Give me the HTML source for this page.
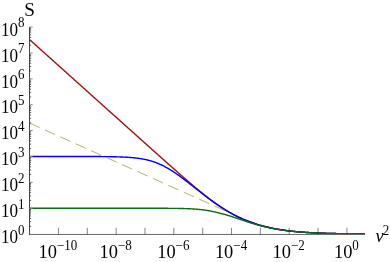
<!DOCTYPE html>
<html><head><meta charset="utf-8"><title>S vs v2</title>
<style>
html,body{margin:0;padding:0;background:#fff;}
svg{display:block;font-family:"Liberation Serif",serif;}
text{fill:#000;}
</style></head><body>
<svg width="390" height="262" viewBox="0 0 390 262">
<rect width="390" height="262" fill="#fff"/>
<g fill="none" stroke-linejoin="round">
<path d="M29.50 123.04 L30.00 123.26 L30.50 123.49 L31.00 123.71 L31.50 123.93 L32.00 124.16 L32.50 124.38 L33.00 124.61 L33.50 124.83 L34.00 125.06 L34.50 125.28 L35.00 125.50 L35.50 125.73 L36.00 125.95 L36.50 126.18 L37.00 126.40 L37.50 126.63 L38.00 126.85 L38.50 127.07 L39.00 127.30 L39.50 127.52 L40.00 127.75 L40.50 127.97 L41.00 128.19 L41.50 128.42 L42.00 128.64 L42.50 128.87 L43.00 129.09 L43.50 129.32 L44.00 129.54 L44.50 129.76 L45.00 129.99 L45.50 130.21 L46.00 130.44 L46.50 130.66 L47.00 130.89 L47.50 131.11 L48.00 131.33 L48.50 131.56 L49.00 131.78 L49.50 132.01 L50.00 132.23 L50.50 132.46 L51.00 132.68 L51.50 132.90 L52.00 133.13 L52.50 133.35 L53.00 133.58 L53.50 133.80 L54.00 134.03 L54.50 134.25 L55.00 134.47 L55.50 134.70 L56.00 134.92 L56.50 135.15 L57.00 135.37 L57.50 135.60 L58.00 135.82 L58.50 136.04 L59.00 136.27 L59.50 136.49 L60.00 136.72 L60.50 136.94 L61.00 137.17 L61.50 137.39 L62.00 137.61 L62.50 137.84 L63.00 138.06 L63.50 138.29 L64.00 138.51 L64.50 138.74 L65.00 138.96 L65.50 139.18 L66.00 139.41 L66.50 139.63 L67.00 139.86 L67.50 140.08 L68.00 140.31 L68.50 140.53 L69.00 140.75 L69.50 140.98 L70.00 141.20 L70.50 141.43 L71.00 141.65 L71.50 141.88 L72.00 142.10 L72.50 142.32 L73.00 142.55 L73.50 142.77 L74.00 143.00 L74.50 143.22 L75.00 143.45 L75.50 143.67 L76.00 143.89 L76.50 144.12 L77.00 144.34 L77.50 144.57 L78.00 144.79 L78.50 145.01 L79.00 145.24 L79.50 145.46 L80.00 145.69 L80.50 145.91 L81.00 146.14 L81.50 146.36 L82.00 146.58 L82.50 146.81 L83.00 147.03 L83.50 147.26 L84.00 147.48 L84.50 147.71 L85.00 147.93 L85.50 148.15 L86.00 148.38 L86.50 148.60 L87.00 148.83 L87.50 149.05 L88.00 149.28 L88.50 149.50 L89.00 149.72 L89.50 149.95 L90.00 150.17 L90.50 150.40 L91.00 150.62 L91.50 150.85 L92.00 151.07 L92.50 151.29 L93.00 151.52 L93.50 151.74 L94.00 151.97 L94.50 152.19 L95.00 152.42 L95.50 152.64 L96.00 152.86 L96.50 153.09 L97.00 153.31 L97.50 153.54 L98.00 153.76 L98.50 153.99 L99.00 154.21 L99.50 154.43 L100.00 154.66 L100.50 154.88 L101.00 155.11 L101.50 155.33 L102.00 155.56 L102.50 155.78 L103.00 156.00 L103.50 156.23 L104.00 156.45 L104.50 156.68 L105.00 156.90 L105.50 157.13 L106.00 157.35 L106.50 157.57 L107.00 157.80 L107.50 158.02 L108.00 158.25 L108.50 158.47 L109.00 158.70 L109.50 158.92 L110.00 159.14 L110.50 159.37 L111.00 159.59 L111.50 159.82 L112.00 160.04 L112.50 160.27 L113.00 160.49 L113.50 160.71 L114.00 160.94 L114.50 161.16 L115.00 161.39 L115.50 161.61 L116.00 161.83 L116.50 162.06 L117.00 162.28 L117.50 162.51 L118.00 162.73 L118.50 162.96 L119.00 163.18 L119.50 163.40 L120.00 163.63 L120.50 163.85 L121.00 164.08 L121.50 164.30 L122.00 164.53 L122.50 164.75 L123.00 164.97 L123.50 165.20 L124.00 165.42 L124.50 165.65 L125.00 165.87 L125.50 166.10 L126.00 166.32 L126.50 166.54 L127.00 166.77 L127.50 166.99 L128.00 167.22 L128.50 167.44 L129.00 167.67 L129.50 167.89 L130.00 168.11 L130.50 168.34 L131.00 168.56 L131.50 168.79 L132.00 169.01 L132.50 169.24 L133.00 169.46 L133.50 169.68 L134.00 169.91 L134.50 170.13 L135.00 170.36 L135.50 170.58 L136.00 170.81 L136.50 171.03 L137.00 171.25 L137.50 171.48 L138.00 171.70 L138.50 171.93 L139.00 172.15 L139.50 172.38 L140.00 172.60 L140.50 172.82 L141.00 173.05 L141.50 173.27 L142.00 173.50 L142.50 173.72 L143.00 173.95 L143.50 174.17 L144.00 174.39 L144.50 174.62 L145.00 174.84 L145.50 175.07 L146.00 175.29 L146.50 175.52 L147.00 175.74 L147.50 175.96 L148.00 176.19 L148.50 176.41 L149.00 176.64 L149.50 176.86 L150.00 177.09 L150.50 177.31 L151.00 177.53 L151.50 177.76 L152.00 177.98 L152.50 178.21 L153.00 178.43 L153.50 178.65 L154.00 178.88 L154.50 179.10 L155.00 179.33 L155.50 179.55 L156.00 179.78 L156.50 180.00 L157.00 180.22 L157.50 180.45 L158.00 180.67 L158.50 180.90 L159.00 181.12 L159.50 181.35 L160.00 181.57 L160.50 181.79 L161.00 182.02 L161.50 182.24 L162.00 182.47 L162.50 182.69 L163.00 182.92 L163.50 183.14 L164.00 183.36 L164.50 183.59 L165.00 183.81 L165.50 184.04 L166.00 184.26 L166.50 184.49 L167.00 184.71 L167.50 184.93 L168.00 185.16 L168.50 185.38 L169.00 185.61 L169.50 185.83 L170.00 186.06 L170.50 186.28 L171.00 186.50 L171.50 186.73 L172.00 186.95 L172.50 187.18 L173.00 187.40 L173.50 187.63 L174.00 187.85 L174.50 188.07 L175.00 188.30 L175.50 188.52 L176.00 188.75 L176.50 188.97 L177.00 189.20 L177.50 189.42 L178.00 189.64 L178.50 189.87 L179.00 190.09 L179.50 190.32 L180.00 190.54 L180.50 190.77 L181.00 190.99 L181.50 191.21 L182.00 191.44 L182.50 191.66 L183.00 191.89 L183.50 192.11 L184.00 192.34 L184.50 192.56 L185.00 192.78 L185.50 193.01 L186.00 193.23 L186.50 193.46 L187.00 193.68 L187.50 193.91 L188.00 194.13 L188.50 194.35 L189.00 194.58 L189.50 194.80 L190.00 195.03 L190.50 195.25 L191.00 195.48 L191.50 195.70 L192.00 195.92 L192.50 196.15 L193.00 196.37 L193.50 196.60 L194.00 196.82 L194.50 197.04 L195.00 197.27 L195.50 197.49 L196.00 197.72 L196.50 197.94 L197.00 198.17 L197.50 198.39 L198.00 198.61 L198.50 198.84 L199.00 199.06 L199.50 199.29 L200.00 199.51 L200.50 199.74 L201.00 199.96 L201.50 200.18 L202.00 200.41 L202.50 200.63 L203.00 200.86 L203.50 201.08 L204.00 201.31 L204.50 201.53 L205.00 201.75 L205.50 201.98 L206.00 202.20 L206.50 202.43 L207.00 202.65 L207.50 202.88 L208.00 203.10 L208.50 203.32 L209.00 203.55 L209.50 203.77 L210.00 204.00 L210.50 204.22 L211.00 204.45 L211.50 204.67 L212.00 204.89 L212.50 205.12 L213.00 205.34 L213.50 205.57 L214.00 205.79 L214.50 206.02 L215.00 206.24 L215.50 206.46 L216.00 206.69 L216.50 206.91 L217.00 207.14 L217.50 207.36 L218.00 207.59 L218.50 207.81 L219.00 208.03 L219.50 208.26 L220.00 208.48 L220.50 208.71 L221.00 208.93 L221.50 209.15 L222.00 209.38 L222.50 209.60 L223.00 209.83 L223.50 210.05 L224.00 210.27 L224.50 210.50 L225.00 210.72 L225.50 210.95 L226.00 211.17 L226.50 211.39 L227.00 211.62 L227.50 211.84 L228.00 212.06 L228.50 212.28 L229.00 212.51 L229.50 212.73 L230.00 212.95 L230.50 213.17 L231.00 213.40 L231.50 213.62 L232.00 213.84 L232.50 214.06 L233.00 214.28 L233.50 214.50 L234.00 214.72 L234.50 214.94 L235.00 215.16 L235.50 215.38 L236.00 215.59 L236.50 215.81 L237.00 216.03 L237.50 216.24 L238.00 216.46 L238.50 216.67 L239.00 216.89 L239.50 217.10 L240.00 217.31 L240.50 217.53 L241.00 217.74 L241.50 217.95 L242.00 218.15 L242.50 218.36 L243.00 218.57 L243.50 218.78 L244.00 218.98 L244.50 219.18 L245.00 219.39 L245.50 219.59 L246.00 219.79 L246.50 219.98 L247.00 220.18 L247.50 220.38 L248.00 220.57 L248.50 220.77 L249.00 220.96 L249.50 221.15 L250.00 221.34 L250.50 221.52 L251.00 221.71 L251.50 221.89 L252.00 222.07 L252.50 222.25 L253.00 222.43 L253.50 222.61 L254.00 222.79 L254.50 222.96 L255.00 223.13 L255.50 223.30 L256.00 223.47 L256.50 223.64 L257.00 223.80 L257.50 223.97 L258.00 224.13 L258.50 224.29 L259.00 224.44 L259.50 224.60 L260.00 224.75 L260.50 224.91 L261.00 225.06 L261.50 225.21 L262.00 225.35 L262.50 225.50 L263.00 225.64 L263.50 225.78 L264.00 225.92 L264.50 226.06 L265.00 226.19 L265.50 226.33 L266.00 226.46 L266.50 226.59 L267.00 226.72 L267.50 226.84 L268.00 226.97 L268.50 227.09 L269.00 227.21 L269.50 227.33 L270.00 227.45 L270.50 227.57 L271.00 227.68 L271.50 227.79 L272.00 227.90 L272.50 228.01 L273.00 228.12 L273.50 228.23 L274.00 228.33 L274.50 228.43 L275.00 228.54 L275.50 228.64 L276.00 228.73 L276.50 228.83 L277.00 228.92 L277.50 229.02 L278.00 229.11 L278.50 229.20 L279.00 229.29 L279.50 229.38 L280.00 229.46 L280.50 229.55 L281.00 229.63 L281.50 229.71 L282.00 229.79 L282.50 229.87 L283.00 229.95 L283.50 230.03 L284.00 230.10 L284.50 230.17 L285.00 230.25 L285.50 230.32 L286.00 230.39 L286.50 230.46 L287.00 230.53 L287.50 230.59 L288.00 230.66 L288.50 230.72 L289.00 230.78 L289.50 230.85 L290.00 230.91 L290.50 230.97 L291.00 231.03 L291.50 231.08 L292.00 231.14 L292.50 231.20 L293.00 231.25 L293.50 231.30 L294.00 231.36 L294.50 231.41 L295.00 231.46 L295.50 231.51 L296.00 231.56 L296.50 231.61 L297.00 231.66 L297.50 231.70 L298.00 231.75 L298.50 231.79 L299.00 231.84 L299.50 231.88 L300.00 231.92 L300.50 231.96 L301.00 232.00 L301.50 232.04 L302.00 232.08 L302.50 232.12 L303.00 232.16 L303.50 232.20 L304.00 232.23 L304.50 232.27 L305.00 232.30 L305.50 232.34 L306.00 232.37 L306.50 232.41 L307.00 232.44 L307.50 232.47 L308.00 232.50 L308.50 232.53 L309.00 232.56 L309.50 232.59 L310.00 232.62 L310.50 232.65 L311.00 232.68 L311.50 232.71 L312.00 232.73 L312.50 232.76 L313.00 232.79 L313.50 232.81 L314.00 232.84 L314.50 232.86 L315.00 232.88 L315.50 232.91 L316.00 232.93 L316.50 232.95 L317.00 232.98 L317.50 233.00 L318.00 233.02 L318.50 233.04 L319.00 233.06 L319.50 233.08 L320.00 233.10 L320.50 233.12 L321.00 233.14 L321.50 233.16 L322.00 233.18 L322.50 233.19 L323.00 233.21 L323.50 233.23 L324.00 233.25 L324.50 233.26 L325.00 233.28 L325.50 233.30 L326.00 233.31 L326.50 233.33 L327.00 233.34 L327.50 233.36 L328.00 233.37 L328.50 233.39 L329.00 233.40 L329.50 233.41 L330.00 233.43 L330.50 233.44 L331.00 233.45 L331.50 233.47 L332.00 233.48 L332.50 233.49 L333.00 233.50 L333.50 233.51 L334.00 233.52 L334.50 233.54 L335.00 233.55 L335.50 233.56 L336.00 233.57 L336.50 233.58 L337.00 233.59 L337.50 233.60 L338.00 233.61 L338.50 233.62 L339.00 233.63 L339.50 233.64 L340.00 233.65 L340.50 233.66 L341.00 233.66 L341.50 233.67 L342.00 233.68 L342.50 233.69 L343.00 233.70 L343.50 233.71 L344.00 233.71 L344.50 233.72 L345.00 233.73 L345.50 233.74 L346.00 233.74 L346.50 233.75 L347.00 233.76 L347.50 233.76 L348.00 233.77 L348.50 233.78 L349.00 233.78 L349.50 233.79 L350.00 233.80 L350.50 233.80 L351.00 233.81 L351.50 233.81 L352.00 233.82 L352.50 233.82 L353.00 233.83 L353.50 233.83 L354.00 233.84 L354.50 233.85 L355.00 233.85 L355.50 233.85 L356.00 233.86 L356.50 233.86 L357.00 233.87 L357.50 233.87 L358.00 233.88 L358.50 233.88 L359.00 233.89 L359.50 233.89 L360.00 233.90 L360.50 233.90 L361.00 233.90 L361.50 233.91 L362.00 233.91 L362.50 233.91 L363.00 233.92 L363.50 233.92 L364.00 233.93 L364.80 233.93" stroke="#9c9c3e" stroke-width="0.9" stroke-dasharray="10.96 5.95"/>
<path d="M29.50 39.55 L30.00 40.00 L30.50 40.44 L31.00 40.89 L31.50 41.34 L32.00 41.79 L32.50 42.24 L33.00 42.69 L33.50 43.13 L34.00 43.58 L34.50 44.03 L35.00 44.48 L35.50 44.93 L36.00 45.38 L36.50 45.83 L37.00 46.27 L37.50 46.72 L38.00 47.17 L38.50 47.62 L39.00 48.07 L39.50 48.52 L40.00 48.97 L40.50 49.41 L41.00 49.86 L41.50 50.31 L42.00 50.76 L42.50 51.21 L43.00 51.66 L43.50 52.11 L44.00 52.55 L44.50 53.00 L45.00 53.45 L45.50 53.90 L46.00 54.35 L46.50 54.80 L47.00 55.25 L47.50 55.69 L48.00 56.14 L48.50 56.59 L49.00 57.04 L49.50 57.49 L50.00 57.94 L50.50 58.38 L51.00 58.83 L51.50 59.28 L52.00 59.73 L52.50 60.18 L53.00 60.63 L53.50 61.08 L54.00 61.52 L54.50 61.97 L55.00 62.42 L55.50 62.87 L56.00 63.32 L56.50 63.77 L57.00 64.22 L57.50 64.66 L58.00 65.11 L58.50 65.56 L59.00 66.01 L59.50 66.46 L60.00 66.91 L60.50 67.36 L61.00 67.80 L61.50 68.25 L62.00 68.70 L62.50 69.15 L63.00 69.60 L63.50 70.05 L64.00 70.50 L64.50 70.94 L65.00 71.39 L65.50 71.84 L66.00 72.29 L66.50 72.74 L67.00 73.19 L67.50 73.64 L68.00 74.08 L68.50 74.53 L69.00 74.98 L69.50 75.43 L70.00 75.88 L70.50 76.33 L71.00 76.77 L71.50 77.22 L72.00 77.67 L72.50 78.12 L73.00 78.57 L73.50 79.02 L74.00 79.47 L74.50 79.91 L75.00 80.36 L75.50 80.81 L76.00 81.26 L76.50 81.71 L77.00 82.16 L77.50 82.61 L78.00 83.05 L78.50 83.50 L79.00 83.95 L79.50 84.40 L80.00 84.85 L80.50 85.30 L81.00 85.75 L81.50 86.19 L82.00 86.64 L82.50 87.09 L83.00 87.54 L83.50 87.99 L84.00 88.44 L84.50 88.89 L85.00 89.33 L85.50 89.78 L86.00 90.23 L86.50 90.68 L87.00 91.13 L87.50 91.58 L88.00 92.02 L88.50 92.47 L89.00 92.92 L89.50 93.37 L90.00 93.82 L90.50 94.27 L91.00 94.72 L91.50 95.16 L92.00 95.61 L92.50 96.06 L93.00 96.51 L93.50 96.96 L94.00 97.41 L94.50 97.86 L95.00 98.30 L95.50 98.75 L96.00 99.20 L96.50 99.65 L97.00 100.10 L97.50 100.55 L98.00 101.00 L98.50 101.44 L99.00 101.89 L99.50 102.34 L100.00 102.79 L100.50 103.24 L101.00 103.69 L101.50 104.13 L102.00 104.58 L102.50 105.03 L103.00 105.48 L103.50 105.93 L104.00 106.38 L104.50 106.83 L105.00 107.27 L105.50 107.72 L106.00 108.17 L106.50 108.62 L107.00 109.07 L107.50 109.52 L108.00 109.97 L108.50 110.41 L109.00 110.86 L109.50 111.31 L110.00 111.76 L110.50 112.21 L111.00 112.66 L111.50 113.10 L112.00 113.55 L112.50 114.00 L113.00 114.45 L113.50 114.90 L114.00 115.35 L114.50 115.80 L115.00 116.24 L115.50 116.69 L116.00 117.14 L116.50 117.59 L117.00 118.04 L117.50 118.49 L118.00 118.94 L118.50 119.38 L119.00 119.83 L119.50 120.28 L120.00 120.73 L120.50 121.18 L121.00 121.63 L121.50 122.07 L122.00 122.52 L122.50 122.97 L123.00 123.42 L123.50 123.87 L124.00 124.32 L124.50 124.76 L125.00 125.21 L125.50 125.66 L126.00 126.11 L126.50 126.56 L127.00 127.01 L127.50 127.45 L128.00 127.90 L128.50 128.35 L129.00 128.80 L129.50 129.25 L130.00 129.70 L130.50 130.14 L131.00 130.59 L131.50 131.04 L132.00 131.49 L132.50 131.94 L133.00 132.39 L133.50 132.83 L134.00 133.28 L134.50 133.73 L135.00 134.18 L135.50 134.63 L136.00 135.08 L136.50 135.52 L137.00 135.97 L137.50 136.42 L138.00 136.87 L138.50 137.32 L139.00 137.76 L139.50 138.21 L140.00 138.66 L140.50 139.11 L141.00 139.56 L141.50 140.01 L142.00 140.45 L142.50 140.90 L143.00 141.35 L143.50 141.80 L144.00 142.25 L144.50 142.69 L145.00 143.14 L145.50 143.59 L146.00 144.04 L146.50 144.48 L147.00 144.93 L147.50 145.38 L148.00 145.83 L148.50 146.28 L149.00 146.72 L149.50 147.17 L150.00 147.62 L150.50 148.07 L151.00 148.51 L151.50 148.96 L152.00 149.41 L152.50 149.85 L153.00 150.30 L153.50 150.75 L154.00 151.20 L154.50 151.64 L155.00 152.09 L155.50 152.54 L156.00 152.98 L156.50 153.43 L157.00 153.88 L157.50 154.33 L158.00 154.77 L158.50 155.22 L159.00 155.67 L159.50 156.11 L160.00 156.56 L160.50 157.00 L161.00 157.45 L161.50 157.90 L162.00 158.34 L162.50 158.79 L163.00 159.23 L163.50 159.68 L164.00 160.13 L164.50 160.57 L165.00 161.02 L165.50 161.46 L166.00 161.91 L166.50 162.35 L167.00 162.80 L167.50 163.24 L168.00 163.69 L168.50 164.13 L169.00 164.57 L169.50 165.02 L170.00 165.46 L170.50 165.90 L171.00 166.35 L171.50 166.79 L172.00 167.23 L172.50 167.68 L173.00 168.12 L173.50 168.56 L174.00 169.00 L174.50 169.45 L175.00 169.89 L175.50 170.33 L176.00 170.77 L176.50 171.21 L177.00 171.65 L177.50 172.09 L178.00 172.53 L178.50 172.97 L179.00 173.41 L179.50 173.85 L180.00 174.29 L180.50 174.73 L181.00 175.16 L181.50 175.60 L182.00 176.04 L182.50 176.47 L183.00 176.91 L183.50 177.34 L184.00 177.78 L184.50 178.21 L185.00 178.65 L185.50 179.08 L186.00 179.51 L186.50 179.95 L187.00 180.38 L187.50 180.81 L188.00 181.24 L188.50 181.67 L189.00 182.10 L189.50 182.53 L190.00 182.96 L190.50 183.38 L191.00 183.81 L191.50 184.23 L192.00 184.66 L192.50 185.08 L193.00 185.51 L193.50 185.93 L194.00 186.35 L194.50 186.77 L195.00 187.19 L195.50 187.61 L196.00 188.03 L196.50 188.44 L197.00 188.86 L197.50 189.27 L198.00 189.69 L198.50 190.10 L199.00 190.51 L199.50 190.92 L200.00 191.33 L200.50 191.74 L201.00 192.14 L201.50 192.55 L202.00 192.95 L202.50 193.36 L203.00 193.76 L203.50 194.16 L204.00 194.55 L204.50 194.95 L205.00 195.35 L205.50 195.74 L206.00 196.13 L206.50 196.52 L207.00 196.91 L207.50 197.30 L208.00 197.69 L208.50 198.07 L209.00 198.45 L209.50 198.84 L210.00 199.21 L210.50 199.59 L211.00 199.97 L211.50 200.34 L212.00 200.71 L212.50 201.08 L213.00 201.45 L213.50 201.82 L214.00 202.18 L214.50 202.54 L215.00 202.90 L215.50 203.26 L216.00 203.62 L216.50 203.97 L217.00 204.32 L217.50 204.67 L218.00 205.01 L218.50 205.36 L219.00 205.70 L219.50 206.04 L220.00 206.38 L220.50 206.71 L221.00 207.04 L221.50 207.37 L222.00 207.70 L222.50 208.03 L223.00 208.35 L223.50 208.67 L224.00 208.99 L224.50 209.30 L225.00 209.61 L225.50 209.92 L226.00 210.23 L226.50 210.53 L227.00 210.84 L227.50 211.13 L228.00 211.43 L228.50 211.72 L229.00 212.02 L229.50 212.30 L230.00 212.59 L230.50 212.87 L231.00 213.15 L231.50 213.43 L232.00 213.70 L232.50 213.98 L233.00 214.25 L233.50 214.51 L234.00 214.78 L234.50 215.04 L235.00 215.30 L235.50 215.55 L236.00 215.81 L236.50 216.06 L237.00 216.30 L237.50 216.55 L238.00 216.79 L238.50 217.03 L239.00 217.27 L239.50 217.51 L240.00 217.74 L240.50 217.97 L241.00 218.20 L241.50 218.42 L242.00 218.65 L242.50 218.87 L243.00 219.09 L243.50 219.30 L244.00 219.52 L244.50 219.73 L245.00 219.94 L245.50 220.14 L246.00 220.35 L246.50 220.55 L247.00 220.75 L247.50 220.95 L248.00 221.14 L248.50 221.34 L249.00 221.53 L249.50 221.72 L250.00 221.90 L250.50 222.09 L251.00 222.27 L251.50 222.45 L252.00 222.63 L252.50 222.80 L253.00 222.98 L253.50 223.15 L254.00 223.32 L254.50 223.49 L255.00 223.65 L255.50 223.82 L256.00 223.98 L256.50 224.14 L257.00 224.30 L257.50 224.45 L258.00 224.60 L258.50 224.76 L259.00 224.91 L259.50 225.05 L260.00 225.20 L260.50 225.34 L261.00 225.49 L261.50 225.63 L262.00 225.76 L262.50 225.90 L263.00 226.03 L263.50 226.17 L264.00 226.30 L264.50 226.43 L265.00 226.55 L265.50 226.68 L266.00 226.80 L266.50 226.93 L267.00 227.05 L267.50 227.17 L268.00 227.28 L268.50 227.40 L269.00 227.51 L269.50 227.62 L270.00 227.73 L270.50 227.84 L271.00 227.95 L271.50 228.05 L272.00 228.16 L272.50 228.26 L273.00 228.36 L273.50 228.46 L274.00 228.56 L274.50 228.66 L275.00 228.75 L275.50 228.84 L276.00 228.94 L276.50 229.03 L277.00 229.12 L277.50 229.20 L278.00 229.29 L278.50 229.38 L279.00 229.46 L279.50 229.54 L280.00 229.62 L280.50 229.70 L281.00 229.78 L281.50 229.86 L282.00 229.93 L282.50 230.01 L283.00 230.08 L283.50 230.15 L284.00 230.23 L284.50 230.30 L285.00 230.36 L285.50 230.43 L286.00 230.50 L286.50 230.56 L287.00 230.63 L287.50 230.69 L288.00 230.75 L288.50 230.82 L289.00 230.88 L289.50 230.93 L290.00 230.99 L290.50 231.05 L291.00 231.11 L291.50 231.16 L292.00 231.22 L292.50 231.27 L293.00 231.32 L293.50 231.37 L294.00 231.42 L294.50 231.47 L295.00 231.52 L295.50 231.57 L296.00 231.62 L296.50 231.66 L297.00 231.71 L297.50 231.75 L298.00 231.80 L298.50 231.84 L299.00 231.88 L299.50 231.92 L300.00 231.96 L300.50 232.00 L301.00 232.04 L301.50 232.08 L302.00 232.12 L302.50 232.16 L303.00 232.19 L303.50 232.23 L304.00 232.27 L304.50 232.30 L305.00 232.34 L305.50 232.37 L306.00 232.40 L306.50 232.43 L307.00 232.47 L307.50 232.50 L308.00 232.53 L308.50 232.56 L309.00 232.59 L309.50 232.62 L310.00 232.64 L310.50 232.67 L311.00 232.70 L311.50 232.73 L312.00 232.75 L312.50 232.78 L313.00 232.80 L313.50 232.83 L314.00 232.85 L314.50 232.88 L315.00 232.90 L315.50 232.92 L316.00 232.95 L316.50 232.97 L317.00 232.99 L317.50 233.01 L318.00 233.03 L318.50 233.05 L319.00 233.07 L319.50 233.09 L320.00 233.11 L320.50 233.13 L321.00 233.15 L321.50 233.17 L322.00 233.19 L322.50 233.20 L323.00 233.22 L323.50 233.24 L324.00 233.25 L324.50 233.27 L325.00 233.29 L325.50 233.30 L326.00 233.32 L326.50 233.33 L327.00 233.35 L327.50 233.36 L328.00 233.38 L328.50 233.39 L329.00 233.40 L329.50 233.42 L330.00 233.43 L330.50 233.44 L331.00 233.46 L331.50 233.47 L332.00 233.48 L332.50 233.49 L333.00 233.51 L333.50 233.52 L334.00 233.53 L334.50 233.54 L335.00 233.55 L335.50 233.56 L336.00 233.57 L336.50 233.58 L337.00 233.59 L337.50 233.60 L338.00 233.61 L338.50 233.62 L339.00 233.63 L339.50 233.64 L340.00 233.65 L340.50 233.66 L341.00 233.67 L341.50 233.68 L342.00 233.68 L342.50 233.69 L343.00 233.70 L343.50 233.71 L344.00 233.72 L344.50 233.72 L345.00 233.73 L345.50 233.74 L346.00 233.74 L346.50 233.75 L347.00 233.76 L347.50 233.76 L348.00 233.77 L348.50 233.78 L349.00 233.78 L349.50 233.79 L350.00 233.80 L350.50 233.80 L351.00 233.81 L351.50 233.81 L352.00 233.82 L352.50 233.83 L353.00 233.83 L353.50 233.84 L354.00 233.84 L354.50 233.85 L355.00 233.85 L355.50 233.86 L356.00 233.86 L356.50 233.87 L357.00 233.87 L357.50 233.87 L358.00 233.88 L358.50 233.88 L359.00 233.89 L359.50 233.89 L360.00 233.90 L360.50 233.90 L361.00 233.90 L361.50 233.91 L362.00 233.91 L362.50 233.92 L363.00 233.92 L363.50 233.92 L364.00 233.93 L364.80 233.93" stroke="#a01010" stroke-width="1.4"/>
<path d="M29.50 156.48 L30.00 156.48 L30.50 156.48 L31.00 156.48 L31.50 156.48 L32.00 156.48 L32.50 156.48 L33.00 156.48 L33.50 156.48 L34.00 156.48 L34.50 156.48 L35.00 156.48 L35.50 156.48 L36.00 156.48 L36.50 156.48 L37.00 156.48 L37.50 156.48 L38.00 156.48 L38.50 156.48 L39.00 156.48 L39.50 156.48 L40.00 156.48 L40.50 156.48 L41.00 156.48 L41.50 156.48 L42.00 156.48 L42.50 156.48 L43.00 156.48 L43.50 156.48 L44.00 156.48 L44.50 156.48 L45.00 156.48 L45.50 156.48 L46.00 156.48 L46.50 156.48 L47.00 156.48 L47.50 156.48 L48.00 156.48 L48.50 156.48 L49.00 156.48 L49.50 156.48 L50.00 156.48 L50.50 156.48 L51.00 156.48 L51.50 156.48 L52.00 156.48 L52.50 156.48 L53.00 156.48 L53.50 156.48 L54.00 156.48 L54.50 156.48 L55.00 156.48 L55.50 156.48 L56.00 156.48 L56.50 156.48 L57.00 156.48 L57.50 156.48 L58.00 156.48 L58.50 156.48 L59.00 156.48 L59.50 156.48 L60.00 156.48 L60.50 156.48 L61.00 156.48 L61.50 156.48 L62.00 156.48 L62.50 156.48 L63.00 156.48 L63.50 156.48 L64.00 156.48 L64.50 156.48 L65.00 156.48 L65.50 156.48 L66.00 156.48 L66.50 156.48 L67.00 156.48 L67.50 156.48 L68.00 156.48 L68.50 156.48 L69.00 156.48 L69.50 156.48 L70.00 156.48 L70.50 156.48 L71.00 156.48 L71.50 156.48 L72.00 156.49 L72.50 156.49 L73.00 156.49 L73.50 156.49 L74.00 156.49 L74.50 156.49 L75.00 156.49 L75.50 156.49 L76.00 156.49 L76.50 156.49 L77.00 156.49 L77.50 156.49 L78.00 156.49 L78.50 156.49 L79.00 156.49 L79.50 156.49 L80.00 156.49 L80.50 156.49 L81.00 156.50 L81.50 156.50 L82.00 156.50 L82.50 156.50 L83.00 156.50 L83.50 156.50 L84.00 156.50 L84.50 156.50 L85.00 156.50 L85.50 156.50 L86.00 156.51 L86.50 156.51 L87.00 156.51 L87.50 156.51 L88.00 156.51 L88.50 156.51 L89.00 156.51 L89.50 156.52 L90.00 156.52 L90.50 156.52 L91.00 156.52 L91.50 156.52 L92.00 156.52 L92.50 156.53 L93.00 156.53 L93.50 156.53 L94.00 156.53 L94.50 156.54 L95.00 156.54 L95.50 156.54 L96.00 156.54 L96.50 156.55 L97.00 156.55 L97.50 156.55 L98.00 156.56 L98.50 156.56 L99.00 156.56 L99.50 156.57 L100.00 156.57 L100.50 156.57 L101.00 156.58 L101.50 156.58 L102.00 156.59 L102.50 156.59 L103.00 156.59 L103.50 156.60 L104.00 156.60 L104.50 156.61 L105.00 156.62 L105.50 156.62 L106.00 156.63 L106.50 156.63 L107.00 156.64 L107.50 156.65 L108.00 156.65 L108.50 156.66 L109.00 156.67 L109.50 156.68 L110.00 156.68 L110.50 156.69 L111.00 156.70 L111.50 156.71 L112.00 156.72 L112.50 156.73 L113.00 156.74 L113.50 156.75 L114.00 156.76 L114.50 156.77 L115.00 156.78 L115.50 156.80 L116.00 156.81 L116.50 156.82 L117.00 156.84 L117.50 156.85 L118.00 156.87 L118.50 156.88 L119.00 156.90 L119.50 156.91 L120.00 156.93 L120.50 156.95 L121.00 156.97 L121.50 156.99 L122.00 157.01 L122.50 157.03 L123.00 157.05 L123.50 157.08 L124.00 157.10 L124.50 157.12 L125.00 157.15 L125.50 157.18 L126.00 157.20 L126.50 157.23 L127.00 157.26 L127.50 157.29 L128.00 157.33 L128.50 157.36 L129.00 157.39 L129.50 157.43 L130.00 157.47 L130.50 157.51 L131.00 157.55 L131.50 157.59 L132.00 157.63 L132.50 157.67 L133.00 157.72 L133.50 157.77 L134.00 157.82 L134.50 157.87 L135.00 157.92 L135.50 157.98 L136.00 158.04 L136.50 158.09 L137.00 158.16 L137.50 158.22 L138.00 158.28 L138.50 158.35 L139.00 158.42 L139.50 158.49 L140.00 158.57 L140.50 158.65 L141.00 158.73 L141.50 158.81 L142.00 158.90 L142.50 158.98 L143.00 159.07 L143.50 159.17 L144.00 159.27 L144.50 159.37 L145.00 159.47 L145.50 159.58 L146.00 159.68 L146.50 159.80 L147.00 159.91 L147.50 160.03 L148.00 160.16 L148.50 160.28 L149.00 160.41 L149.50 160.55 L150.00 160.69 L150.50 160.83 L151.00 160.97 L151.50 161.12 L152.00 161.28 L152.50 161.43 L153.00 161.60 L153.50 161.76 L154.00 161.93 L154.50 162.11 L155.00 162.28 L155.50 162.47 L156.00 162.65 L156.50 162.85 L157.00 163.04 L157.50 163.24 L158.00 163.44 L158.50 163.65 L159.00 163.87 L159.50 164.08 L160.00 164.31 L160.50 164.53 L161.00 164.76 L161.50 165.00 L162.00 165.24 L162.50 165.48 L163.00 165.73 L163.50 165.98 L164.00 166.24 L164.50 166.50 L165.00 166.76 L165.50 167.03 L166.00 167.30 L166.50 167.58 L167.00 167.86 L167.50 168.15 L168.00 168.44 L168.50 168.73 L169.00 169.03 L169.50 169.33 L170.00 169.63 L170.50 169.94 L171.00 170.25 L171.50 170.57 L172.00 170.89 L172.50 171.21 L173.00 171.53 L173.50 171.86 L174.00 172.19 L174.50 172.53 L175.00 172.86 L175.50 173.20 L176.00 173.55 L176.50 173.89 L177.00 174.24 L177.50 174.59 L178.00 174.94 L178.50 175.30 L179.00 175.66 L179.50 176.02 L180.00 176.38 L180.50 176.75 L181.00 177.11 L181.50 177.48 L182.00 177.85 L182.50 178.23 L183.00 178.60 L183.50 178.97 L184.00 179.35 L184.50 179.73 L185.00 180.11 L185.50 180.49 L186.00 180.88 L186.50 181.26 L187.00 181.64 L187.50 182.03 L188.00 182.42 L188.50 182.80 L189.00 183.19 L189.50 183.58 L190.00 183.97 L190.50 184.36 L191.00 184.76 L191.50 185.15 L192.00 185.54 L192.50 185.93 L193.00 186.32 L193.50 186.72 L194.00 187.11 L194.50 187.50 L195.00 187.90 L195.50 188.29 L196.00 188.69 L196.50 189.08 L197.00 189.47 L197.50 189.86 L198.00 190.26 L198.50 190.65 L199.00 191.04 L199.50 191.43 L200.00 191.82 L200.50 192.21 L201.00 192.60 L201.50 192.99 L202.00 193.38 L202.50 193.77 L203.00 194.16 L203.50 194.54 L204.00 194.93 L204.50 195.31 L205.00 195.70 L205.50 196.08 L206.00 196.46 L206.50 196.84 L207.00 197.22 L207.50 197.59 L208.00 197.97 L208.50 198.35 L209.00 198.72 L209.50 199.09 L210.00 199.46 L210.50 199.83 L211.00 200.20 L211.50 200.57 L212.00 200.93 L212.50 201.29 L213.00 201.65 L213.50 202.01 L214.00 202.37 L214.50 202.73 L215.00 203.08 L215.50 203.43 L216.00 203.78 L216.50 204.13 L217.00 204.48 L217.50 204.82 L218.00 205.16 L218.50 205.50 L219.00 205.84 L219.50 206.18 L220.00 206.51 L220.50 206.84 L221.00 207.17 L221.50 207.50 L222.00 207.82 L222.50 208.14 L223.00 208.46 L223.50 208.78 L224.00 209.09 L224.50 209.40 L225.00 209.71 L225.50 210.02 L226.00 210.32 L226.50 210.63 L227.00 210.92 L227.50 211.22 L228.00 211.52 L228.50 211.81 L229.00 212.10 L229.50 212.38 L230.00 212.66 L230.50 212.95 L231.00 213.22 L231.50 213.50 L232.00 213.77 L232.50 214.04 L233.00 214.31 L233.50 214.58 L234.00 214.84 L234.50 215.10 L235.00 215.36 L235.50 215.61 L236.00 215.86 L236.50 216.11 L237.00 216.36 L237.50 216.60 L238.00 216.85 L238.50 217.08 L239.00 217.32 L239.50 217.56 L240.00 217.79 L240.50 218.02 L241.00 218.25 L241.50 218.47 L242.00 218.69 L242.50 218.91 L243.00 219.13 L243.50 219.35 L244.00 219.56 L244.50 219.77 L245.00 219.98 L245.50 220.18 L246.00 220.39 L246.50 220.59 L247.00 220.79 L247.50 220.98 L248.00 221.18 L248.50 221.37 L249.00 221.56 L249.50 221.75 L250.00 221.94 L250.50 222.12 L251.00 222.30 L251.50 222.48 L252.00 222.66 L252.50 222.84 L253.00 223.01 L253.50 223.18 L254.00 223.35 L254.50 223.52 L255.00 223.68 L255.50 223.85 L256.00 224.01 L256.50 224.17 L257.00 224.32 L257.50 224.48 L258.00 224.63 L258.50 224.78 L259.00 224.93 L259.50 225.08 L260.00 225.22 L260.50 225.37 L261.00 225.51 L261.50 225.65 L262.00 225.79 L262.50 225.92 L263.00 226.06 L263.50 226.19 L264.00 226.32 L264.50 226.45 L265.00 226.58 L265.50 226.70 L266.00 226.83 L266.50 226.95 L267.00 227.07 L267.50 227.19 L268.00 227.30 L268.50 227.42 L269.00 227.53 L269.50 227.64 L270.00 227.75 L270.50 227.86 L271.00 227.97 L271.50 228.07 L272.00 228.18 L272.50 228.28 L273.00 228.38 L273.50 228.48 L274.00 228.58 L274.50 228.67 L275.00 228.77 L275.50 228.86 L276.00 228.95 L276.50 229.04 L277.00 229.13 L277.50 229.22 L278.00 229.31 L278.50 229.39 L279.00 229.48 L279.50 229.56 L280.00 229.64 L280.50 229.72 L281.00 229.80 L281.50 229.87 L282.00 229.95 L282.50 230.02 L283.00 230.10 L283.50 230.17 L284.00 230.24 L284.50 230.31 L285.00 230.38 L285.50 230.45 L286.00 230.51 L286.50 230.58 L287.00 230.64 L287.50 230.71 L288.00 230.77 L288.50 230.83 L289.00 230.89 L289.50 230.95 L290.00 231.01 L290.50 231.06 L291.00 231.12 L291.50 231.18 L292.00 231.23 L292.50 231.28 L293.00 231.34 L293.50 231.39 L294.00 231.44 L294.50 231.49 L295.00 231.54 L295.50 231.58 L296.00 231.63 L296.50 231.68 L297.00 231.72 L297.50 231.77 L298.00 231.81 L298.50 231.85 L299.00 231.90 L299.50 231.94 L300.00 231.98 L300.50 232.02 L301.00 232.06 L301.50 232.10 L302.00 232.13 L302.50 232.17 L303.00 232.21 L303.50 232.24 L304.00 232.28 L304.50 232.31 L305.00 232.35 L305.50 232.38 L306.00 232.41 L306.50 232.45 L307.00 232.48 L307.50 232.51 L308.00 232.54 L308.50 232.57 L309.00 232.60 L309.50 232.63 L310.00 232.66 L310.50 232.68 L311.00 232.71 L311.50 232.74 L312.00 232.76 L312.50 232.79 L313.00 232.82 L313.50 232.84 L314.00 232.86 L314.50 232.89 L315.00 232.91 L315.50 232.94 L316.00 232.96 L316.50 232.98 L317.00 233.00 L317.50 233.02 L318.00 233.04 L318.50 233.06 L319.00 233.08 L319.50 233.10 L320.00 233.12 L320.50 233.14 L321.00 233.16 L321.50 233.18 L322.00 233.20 L322.50 233.22 L323.00 233.23 L323.50 233.25 L324.00 233.27 L324.50 233.28 L325.00 233.30 L325.50 233.31 L326.00 233.33 L326.50 233.35 L327.00 233.36 L327.50 233.37 L328.00 233.39 L328.50 233.40 L329.00 233.42 L329.50 233.43 L330.00 233.44 L330.50 233.46 L331.00 233.47 L331.50 233.48 L332.00 233.49 L332.50 233.51 L333.00 233.52 L333.50 233.53 L334.00 233.54 L334.50 233.55 L335.00 233.56 L335.50 233.57 L336.00 233.58 L336.50 233.59 L337.00 233.60 L337.50 233.61 L338.00 233.62 L338.50 233.63 L339.00 233.64 L339.50 233.65 L340.00 233.66 L340.50 233.67 L341.00 233.68 L341.50 233.69 L342.00 233.70 L342.50 233.70 L343.00 233.71 L343.50 233.72 L344.00 233.73 L344.50 233.73 L345.00 233.74 L345.50 233.75 L346.00 233.76 L346.50 233.76 L347.00 233.77 L347.50 233.78 L348.00 233.78 L348.50 233.79 L349.00 233.80 L349.50 233.80 L350.00 233.81 L350.50 233.81 L351.00 233.82 L351.50 233.83 L352.00 233.83 L352.50 233.84 L353.00 233.84 L353.50 233.85 L354.00 233.85 L354.50 233.86 L355.00 233.86 L355.50 233.87 L356.00 233.87 L356.50 233.88 L357.00 233.88 L357.50 233.89 L358.00 233.89 L358.50 233.89 L359.00 233.90 L359.50 233.90 L360.00 233.91 L360.50 233.91 L361.00 233.92 L361.50 233.92 L362.00 233.92 L362.50 233.93 L363.00 233.93 L363.50 233.93 L364.00 233.94 L364.80 233.94" stroke="#0000f0" stroke-width="1.4"/>
<path d="M29.50 208.24 L30.00 208.24 L30.50 208.24 L31.00 208.24 L31.50 208.24 L32.00 208.24 L32.50 208.24 L33.00 208.24 L33.50 208.24 L34.00 208.24 L34.50 208.24 L35.00 208.24 L35.50 208.24 L36.00 208.24 L36.50 208.24 L37.00 208.24 L37.50 208.24 L38.00 208.24 L38.50 208.24 L39.00 208.24 L39.50 208.24 L40.00 208.24 L40.50 208.24 L41.00 208.24 L41.50 208.24 L42.00 208.24 L42.50 208.24 L43.00 208.24 L43.50 208.24 L44.00 208.24 L44.50 208.24 L45.00 208.24 L45.50 208.24 L46.00 208.24 L46.50 208.24 L47.00 208.24 L47.50 208.24 L48.00 208.24 L48.50 208.24 L49.00 208.24 L49.50 208.24 L50.00 208.24 L50.50 208.24 L51.00 208.24 L51.50 208.24 L52.00 208.24 L52.50 208.24 L53.00 208.24 L53.50 208.24 L54.00 208.24 L54.50 208.24 L55.00 208.24 L55.50 208.24 L56.00 208.24 L56.50 208.24 L57.00 208.24 L57.50 208.24 L58.00 208.24 L58.50 208.24 L59.00 208.24 L59.50 208.24 L60.00 208.24 L60.50 208.24 L61.00 208.24 L61.50 208.24 L62.00 208.24 L62.50 208.24 L63.00 208.24 L63.50 208.24 L64.00 208.24 L64.50 208.24 L65.00 208.24 L65.50 208.24 L66.00 208.24 L66.50 208.24 L67.00 208.24 L67.50 208.24 L68.00 208.24 L68.50 208.24 L69.00 208.24 L69.50 208.24 L70.00 208.24 L70.50 208.24 L71.00 208.24 L71.50 208.24 L72.00 208.24 L72.50 208.24 L73.00 208.24 L73.50 208.24 L74.00 208.24 L74.50 208.24 L75.00 208.24 L75.50 208.24 L76.00 208.24 L76.50 208.24 L77.00 208.24 L77.50 208.24 L78.00 208.24 L78.50 208.24 L79.00 208.24 L79.50 208.24 L80.00 208.24 L80.50 208.24 L81.00 208.24 L81.50 208.24 L82.00 208.24 L82.50 208.24 L83.00 208.24 L83.50 208.24 L84.00 208.24 L84.50 208.24 L85.00 208.24 L85.50 208.24 L86.00 208.24 L86.50 208.24 L87.00 208.24 L87.50 208.24 L88.00 208.24 L88.50 208.24 L89.00 208.24 L89.50 208.24 L90.00 208.24 L90.50 208.24 L91.00 208.24 L91.50 208.24 L92.00 208.24 L92.50 208.24 L93.00 208.24 L93.50 208.24 L94.00 208.24 L94.50 208.24 L95.00 208.24 L95.50 208.24 L96.00 208.24 L96.50 208.24 L97.00 208.24 L97.50 208.24 L98.00 208.24 L98.50 208.24 L99.00 208.24 L99.50 208.24 L100.00 208.24 L100.50 208.24 L101.00 208.24 L101.50 208.24 L102.00 208.24 L102.50 208.24 L103.00 208.24 L103.50 208.24 L104.00 208.24 L104.50 208.24 L105.00 208.24 L105.50 208.24 L106.00 208.24 L106.50 208.24 L107.00 208.24 L107.50 208.24 L108.00 208.24 L108.50 208.24 L109.00 208.24 L109.50 208.24 L110.00 208.24 L110.50 208.24 L111.00 208.24 L111.50 208.24 L112.00 208.24 L112.50 208.24 L113.00 208.24 L113.50 208.24 L114.00 208.24 L114.50 208.24 L115.00 208.24 L115.50 208.24 L116.00 208.24 L116.50 208.24 L117.00 208.24 L117.50 208.24 L118.00 208.24 L118.50 208.24 L119.00 208.24 L119.50 208.24 L120.00 208.24 L120.50 208.24 L121.00 208.24 L121.50 208.24 L122.00 208.24 L122.50 208.24 L123.00 208.24 L123.50 208.24 L124.00 208.24 L124.50 208.24 L125.00 208.24 L125.50 208.24 L126.00 208.24 L126.50 208.24 L127.00 208.24 L127.50 208.24 L128.00 208.24 L128.50 208.24 L129.00 208.24 L129.50 208.24 L130.00 208.24 L130.50 208.24 L131.00 208.24 L131.50 208.24 L132.00 208.24 L132.50 208.24 L133.00 208.24 L133.50 208.24 L134.00 208.24 L134.50 208.24 L135.00 208.24 L135.50 208.24 L136.00 208.24 L136.50 208.24 L137.00 208.24 L137.50 208.24 L138.00 208.24 L138.50 208.25 L139.00 208.25 L139.50 208.25 L140.00 208.25 L140.50 208.25 L141.00 208.25 L141.50 208.25 L142.00 208.25 L142.50 208.25 L143.00 208.25 L143.50 208.25 L144.00 208.25 L144.50 208.25 L145.00 208.25 L145.50 208.25 L146.00 208.25 L146.50 208.25 L147.00 208.25 L147.50 208.25 L148.00 208.25 L148.50 208.25 L149.00 208.26 L149.50 208.26 L150.00 208.26 L150.50 208.26 L151.00 208.26 L151.50 208.26 L152.00 208.26 L152.50 208.26 L153.00 208.26 L153.50 208.26 L154.00 208.26 L154.50 208.27 L155.00 208.27 L155.50 208.27 L156.00 208.27 L156.50 208.27 L157.00 208.27 L157.50 208.27 L158.00 208.28 L158.50 208.28 L159.00 208.28 L159.50 208.28 L160.00 208.28 L160.50 208.28 L161.00 208.29 L161.50 208.29 L162.00 208.29 L162.50 208.29 L163.00 208.29 L163.50 208.30 L164.00 208.30 L164.50 208.30 L165.00 208.30 L165.50 208.31 L166.00 208.31 L166.50 208.31 L167.00 208.32 L167.50 208.32 L168.00 208.32 L168.50 208.33 L169.00 208.33 L169.50 208.33 L170.00 208.34 L170.50 208.34 L171.00 208.35 L171.50 208.35 L172.00 208.36 L172.50 208.36 L173.00 208.37 L173.50 208.37 L174.00 208.38 L174.50 208.38 L175.00 208.39 L175.50 208.40 L176.00 208.40 L176.50 208.41 L177.00 208.42 L177.50 208.42 L178.00 208.43 L178.50 208.44 L179.00 208.45 L179.50 208.46 L180.00 208.47 L180.50 208.48 L181.00 208.49 L181.50 208.50 L182.00 208.51 L182.50 208.52 L183.00 208.54 L183.50 208.55 L184.00 208.56 L184.50 208.58 L185.00 208.59 L185.50 208.61 L186.00 208.62 L186.50 208.64 L187.00 208.66 L187.50 208.68 L188.00 208.70 L188.50 208.72 L189.00 208.74 L189.50 208.76 L190.00 208.79 L190.50 208.81 L191.00 208.84 L191.50 208.86 L192.00 208.89 L192.50 208.92 L193.00 208.95 L193.50 208.98 L194.00 209.02 L194.50 209.05 L195.00 209.09 L195.50 209.12 L196.00 209.16 L196.50 209.20 L197.00 209.25 L197.50 209.29 L198.00 209.34 L198.50 209.38 L199.00 209.43 L199.50 209.48 L200.00 209.53 L200.50 209.59 L201.00 209.64 L201.50 209.70 L202.00 209.76 L202.50 209.82 L203.00 209.89 L203.50 209.95 L204.00 210.02 L204.50 210.09 L205.00 210.16 L205.50 210.23 L206.00 210.31 L206.50 210.39 L207.00 210.47 L207.50 210.55 L208.00 210.63 L208.50 210.72 L209.00 210.80 L209.50 210.89 L210.00 210.98 L210.50 211.08 L211.00 211.17 L211.50 211.27 L212.00 211.37 L212.50 211.47 L213.00 211.57 L213.50 211.68 L214.00 211.78 L214.50 211.89 L215.00 212.00 L215.50 212.12 L216.00 212.23 L216.50 212.35 L217.00 212.46 L217.50 212.58 L218.00 212.70 L218.50 212.82 L219.00 212.95 L219.50 213.07 L220.00 213.20 L220.50 213.33 L221.00 213.46 L221.50 213.59 L222.00 213.73 L222.50 213.86 L223.00 214.00 L223.50 214.13 L224.00 214.27 L224.50 214.41 L225.00 214.55 L225.50 214.70 L226.00 214.84 L226.50 214.99 L227.00 215.14 L227.50 215.28 L228.00 215.43 L228.50 215.58 L229.00 215.74 L229.50 215.89 L230.00 216.04 L230.50 216.20 L231.00 216.36 L231.50 216.51 L232.00 216.67 L232.50 216.83 L233.00 216.99 L233.50 217.16 L234.00 217.32 L234.50 217.48 L235.00 217.65 L235.50 217.81 L236.00 217.98 L236.50 218.14 L237.00 218.31 L237.50 218.48 L238.00 218.64 L238.50 218.81 L239.00 218.98 L239.50 219.15 L240.00 219.32 L240.50 219.49 L241.00 219.66 L241.50 219.83 L242.00 220.00 L242.50 220.17 L243.00 220.33 L243.50 220.50 L244.00 220.67 L244.50 220.84 L245.00 221.01 L245.50 221.18 L246.00 221.34 L246.50 221.51 L247.00 221.67 L247.50 221.84 L248.00 222.00 L248.50 222.17 L249.00 222.33 L249.50 222.49 L250.00 222.65 L250.50 222.81 L251.00 222.97 L251.50 223.13 L252.00 223.28 L252.50 223.44 L253.00 223.59 L253.50 223.74 L254.00 223.89 L254.50 224.04 L255.00 224.19 L255.50 224.34 L256.00 224.48 L256.50 224.63 L257.00 224.77 L257.50 224.91 L258.00 225.05 L258.50 225.19 L259.00 225.33 L259.50 225.46 L260.00 225.60 L260.50 225.73 L261.00 225.86 L261.50 225.99 L262.00 226.12 L262.50 226.24 L263.00 226.37 L263.50 226.49 L264.00 226.61 L264.50 226.73 L265.00 226.85 L265.50 226.97 L266.00 227.08 L266.50 227.20 L267.00 227.31 L267.50 227.42 L268.00 227.53 L268.50 227.64 L269.00 227.74 L269.50 227.85 L270.00 227.95 L270.50 228.06 L271.00 228.16 L271.50 228.26 L272.00 228.35 L272.50 228.45 L273.00 228.55 L273.50 228.64 L274.00 228.73 L274.50 228.82 L275.00 228.91 L275.50 229.00 L276.00 229.09 L276.50 229.17 L277.00 229.26 L277.50 229.34 L278.00 229.42 L278.50 229.50 L279.00 229.58 L279.50 229.66 L280.00 229.74 L280.50 229.82 L281.00 229.89 L281.50 229.96 L282.00 230.04 L282.50 230.11 L283.00 230.18 L283.50 230.25 L284.00 230.32 L284.50 230.38 L285.00 230.45 L285.50 230.51 L286.00 230.58 L286.50 230.64 L287.00 230.70 L287.50 230.76 L288.00 230.82 L288.50 230.88 L289.00 230.94 L289.50 231.00 L290.00 231.05 L290.50 231.11 L291.00 231.16 L291.50 231.22 L292.00 231.27 L292.50 231.32 L293.00 231.37 L293.50 231.42 L294.00 231.47 L294.50 231.52 L295.00 231.56 L295.50 231.61 L296.00 231.66 L296.50 231.70 L297.00 231.75 L297.50 231.79 L298.00 231.83 L298.50 231.87 L299.00 231.91 L299.50 231.95 L300.00 231.99 L300.50 232.03 L301.00 232.07 L301.50 232.11 L302.00 232.15 L302.50 232.18 L303.00 232.22 L303.50 232.25 L304.00 232.29 L304.50 232.32 L305.00 232.36 L305.50 232.39 L306.00 232.42 L306.50 232.45 L307.00 232.48 L307.50 232.51 L308.00 232.54 L308.50 232.57 L309.00 232.60 L309.50 232.63 L310.00 232.66 L310.50 232.69 L311.00 232.71 L311.50 232.74 L312.00 232.76 L312.50 232.79 L313.00 232.81 L313.50 232.84 L314.00 232.86 L314.50 232.89 L315.00 232.91 L315.50 232.93 L316.00 232.95 L316.50 232.98 L317.00 233.00 L317.50 233.02 L318.00 233.04 L318.50 233.06 L319.00 233.08 L319.50 233.10 L320.00 233.12 L320.50 233.14 L321.00 233.16 L321.50 233.17 L322.00 233.19 L322.50 233.21 L323.00 233.23 L323.50 233.24 L324.00 233.26 L324.50 233.28 L325.00 233.29 L325.50 233.31 L326.00 233.32 L326.50 233.34 L327.00 233.35 L327.50 233.37 L328.00 233.38 L328.50 233.39 L329.00 233.41 L329.50 233.42 L330.00 233.43 L330.50 233.45 L331.00 233.46 L331.50 233.47 L332.00 233.48 L332.50 233.50 L333.00 233.51 L333.50 233.52 L334.00 233.53 L334.50 233.54 L335.00 233.55 L335.50 233.56 L336.00 233.57 L336.50 233.58 L337.00 233.59 L337.50 233.60 L338.00 233.61 L338.50 233.62 L339.00 233.63 L339.50 233.64 L340.00 233.65 L340.50 233.66 L341.00 233.67 L341.50 233.68 L342.00 233.68 L342.50 233.69 L343.00 233.70 L343.50 233.71 L344.00 233.72 L344.50 233.72 L345.00 233.73 L345.50 233.74 L346.00 233.75 L346.50 233.75 L347.00 233.76 L347.50 233.77 L348.00 233.77 L348.50 233.78 L349.00 233.78 L349.50 233.79 L350.00 233.80 L350.50 233.80 L351.00 233.81 L351.50 233.81 L352.00 233.82 L352.50 233.83 L353.00 233.83 L353.50 233.84 L354.00 233.84 L354.50 233.85 L355.00 233.85 L355.50 233.86 L356.00 233.86 L356.50 233.87 L357.00 233.87 L357.50 233.87 L358.00 233.88 L358.50 233.88 L359.00 233.89 L359.50 233.89 L360.00 233.90 L360.50 233.90 L361.00 233.90 L361.50 233.91 L362.00 233.91 L362.50 233.92 L363.00 233.92 L363.50 233.92 L364.00 233.93 L364.80 233.93" stroke="#0f690f" stroke-width="1.4"/>
</g>
<line x1="29.0" y1="234.45" x2="364.8" y2="234.45" stroke="#6a6a6a" stroke-width="1"/>
<line x1="29.5" y1="27" x2="29.5" y2="234.95" stroke="#484848" stroke-width="1"/>
<line x1="58.46" y1="227.75" x2="58.46" y2="234.45" stroke="#303030" stroke-width="0.6"/>
<line x1="87.30" y1="227.75" x2="87.30" y2="234.45" stroke="#303030" stroke-width="0.6"/>
<line x1="116.15" y1="227.75" x2="116.15" y2="234.45" stroke="#303030" stroke-width="0.6"/>
<line x1="144.99" y1="227.75" x2="144.99" y2="234.45" stroke="#303030" stroke-width="0.6"/>
<line x1="173.84" y1="227.75" x2="173.84" y2="234.45" stroke="#303030" stroke-width="0.6"/>
<line x1="202.68" y1="227.75" x2="202.68" y2="234.45" stroke="#303030" stroke-width="0.6"/>
<line x1="231.52" y1="227.75" x2="231.52" y2="234.45" stroke="#303030" stroke-width="0.6"/>
<line x1="260.37" y1="227.75" x2="260.37" y2="234.45" stroke="#303030" stroke-width="0.6"/>
<line x1="289.21" y1="227.75" x2="289.21" y2="234.45" stroke="#303030" stroke-width="0.6"/>
<line x1="318.06" y1="227.75" x2="318.06" y2="234.45" stroke="#303030" stroke-width="0.6"/>
<line x1="346.90" y1="227.75" x2="346.90" y2="234.45" stroke="#303030" stroke-width="0.6"/>
<line x1="29.5" y1="226.31" x2="31.1" y2="226.31" stroke="#303030" stroke-width="0.8"/>
<line x1="29.5" y1="221.75" x2="31.1" y2="221.75" stroke="#303030" stroke-width="0.8"/>
<line x1="29.5" y1="218.52" x2="31.1" y2="218.52" stroke="#303030" stroke-width="0.8"/>
<line x1="29.5" y1="216.01" x2="31.1" y2="216.01" stroke="#303030" stroke-width="0.8"/>
<line x1="29.5" y1="213.97" x2="31.1" y2="213.97" stroke="#303030" stroke-width="0.8"/>
<line x1="29.5" y1="212.23" x2="31.1" y2="212.23" stroke="#303030" stroke-width="0.8"/>
<line x1="29.5" y1="210.73" x2="31.1" y2="210.73" stroke="#303030" stroke-width="0.8"/>
<line x1="29.5" y1="209.41" x2="31.1" y2="209.41" stroke="#303030" stroke-width="0.8"/>
<line x1="29.5" y1="208.22" x2="32.7" y2="208.22" stroke="#8a8a8a" stroke-width="1"/>
<line x1="29.5" y1="200.44" x2="31.1" y2="200.44" stroke="#303030" stroke-width="0.8"/>
<line x1="29.5" y1="195.88" x2="31.1" y2="195.88" stroke="#303030" stroke-width="0.8"/>
<line x1="29.5" y1="192.65" x2="31.1" y2="192.65" stroke="#303030" stroke-width="0.8"/>
<line x1="29.5" y1="190.14" x2="31.1" y2="190.14" stroke="#303030" stroke-width="0.8"/>
<line x1="29.5" y1="188.09" x2="31.1" y2="188.09" stroke="#303030" stroke-width="0.8"/>
<line x1="29.5" y1="186.36" x2="31.1" y2="186.36" stroke="#303030" stroke-width="0.8"/>
<line x1="29.5" y1="184.86" x2="31.1" y2="184.86" stroke="#303030" stroke-width="0.8"/>
<line x1="29.5" y1="183.53" x2="31.1" y2="183.53" stroke="#303030" stroke-width="0.8"/>
<line x1="29.5" y1="182.35" x2="32.7" y2="182.35" stroke="#8a8a8a" stroke-width="1"/>
<line x1="29.5" y1="174.56" x2="31.1" y2="174.56" stroke="#303030" stroke-width="0.8"/>
<line x1="29.5" y1="170.00" x2="31.1" y2="170.00" stroke="#303030" stroke-width="0.8"/>
<line x1="29.5" y1="166.77" x2="31.1" y2="166.77" stroke="#303030" stroke-width="0.8"/>
<line x1="29.5" y1="164.26" x2="31.1" y2="164.26" stroke="#303030" stroke-width="0.8"/>
<line x1="29.5" y1="162.22" x2="31.1" y2="162.22" stroke="#303030" stroke-width="0.8"/>
<line x1="29.5" y1="160.48" x2="31.1" y2="160.48" stroke="#303030" stroke-width="0.8"/>
<line x1="29.5" y1="158.98" x2="31.1" y2="158.98" stroke="#303030" stroke-width="0.8"/>
<line x1="29.5" y1="157.66" x2="31.1" y2="157.66" stroke="#303030" stroke-width="0.8"/>
<line x1="29.5" y1="156.47" x2="32.7" y2="156.47" stroke="#8a8a8a" stroke-width="1"/>
<line x1="29.5" y1="148.69" x2="31.1" y2="148.69" stroke="#303030" stroke-width="0.8"/>
<line x1="29.5" y1="144.13" x2="31.1" y2="144.13" stroke="#303030" stroke-width="0.8"/>
<line x1="29.5" y1="140.90" x2="31.1" y2="140.90" stroke="#303030" stroke-width="0.8"/>
<line x1="29.5" y1="138.39" x2="31.1" y2="138.39" stroke="#303030" stroke-width="0.8"/>
<line x1="29.5" y1="136.34" x2="31.1" y2="136.34" stroke="#303030" stroke-width="0.8"/>
<line x1="29.5" y1="134.61" x2="31.1" y2="134.61" stroke="#303030" stroke-width="0.8"/>
<line x1="29.5" y1="133.11" x2="31.1" y2="133.11" stroke="#303030" stroke-width="0.8"/>
<line x1="29.5" y1="131.78" x2="31.1" y2="131.78" stroke="#303030" stroke-width="0.8"/>
<line x1="29.5" y1="130.60" x2="32.7" y2="130.60" stroke="#8a8a8a" stroke-width="1"/>
<line x1="29.5" y1="122.81" x2="31.1" y2="122.81" stroke="#303030" stroke-width="0.8"/>
<line x1="29.5" y1="118.25" x2="31.1" y2="118.25" stroke="#303030" stroke-width="0.8"/>
<line x1="29.5" y1="115.02" x2="31.1" y2="115.02" stroke="#303030" stroke-width="0.8"/>
<line x1="29.5" y1="112.51" x2="31.1" y2="112.51" stroke="#303030" stroke-width="0.8"/>
<line x1="29.5" y1="110.47" x2="31.1" y2="110.47" stroke="#303030" stroke-width="0.8"/>
<line x1="29.5" y1="108.73" x2="31.1" y2="108.73" stroke="#303030" stroke-width="0.8"/>
<line x1="29.5" y1="107.23" x2="31.1" y2="107.23" stroke="#303030" stroke-width="0.8"/>
<line x1="29.5" y1="105.91" x2="31.1" y2="105.91" stroke="#303030" stroke-width="0.8"/>
<line x1="29.5" y1="104.72" x2="32.7" y2="104.72" stroke="#8a8a8a" stroke-width="1"/>
<line x1="29.5" y1="96.94" x2="31.1" y2="96.94" stroke="#303030" stroke-width="0.8"/>
<line x1="29.5" y1="92.38" x2="31.1" y2="92.38" stroke="#303030" stroke-width="0.8"/>
<line x1="29.5" y1="89.15" x2="31.1" y2="89.15" stroke="#303030" stroke-width="0.8"/>
<line x1="29.5" y1="86.64" x2="31.1" y2="86.64" stroke="#303030" stroke-width="0.8"/>
<line x1="29.5" y1="84.59" x2="31.1" y2="84.59" stroke="#303030" stroke-width="0.8"/>
<line x1="29.5" y1="82.86" x2="31.1" y2="82.86" stroke="#303030" stroke-width="0.8"/>
<line x1="29.5" y1="81.36" x2="31.1" y2="81.36" stroke="#303030" stroke-width="0.8"/>
<line x1="29.5" y1="80.03" x2="31.1" y2="80.03" stroke="#303030" stroke-width="0.8"/>
<line x1="29.5" y1="78.85" x2="32.7" y2="78.85" stroke="#8a8a8a" stroke-width="1"/>
<line x1="29.5" y1="71.06" x2="31.1" y2="71.06" stroke="#303030" stroke-width="0.8"/>
<line x1="29.5" y1="66.50" x2="31.1" y2="66.50" stroke="#303030" stroke-width="0.8"/>
<line x1="29.5" y1="63.27" x2="31.1" y2="63.27" stroke="#303030" stroke-width="0.8"/>
<line x1="29.5" y1="60.76" x2="31.1" y2="60.76" stroke="#303030" stroke-width="0.8"/>
<line x1="29.5" y1="58.72" x2="31.1" y2="58.72" stroke="#303030" stroke-width="0.8"/>
<line x1="29.5" y1="56.98" x2="31.1" y2="56.98" stroke="#303030" stroke-width="0.8"/>
<line x1="29.5" y1="55.48" x2="31.1" y2="55.48" stroke="#303030" stroke-width="0.8"/>
<line x1="29.5" y1="54.16" x2="31.1" y2="54.16" stroke="#303030" stroke-width="0.8"/>
<line x1="29.5" y1="52.97" x2="32.7" y2="52.97" stroke="#8a8a8a" stroke-width="1"/>
<line x1="29.5" y1="45.19" x2="31.1" y2="45.19" stroke="#303030" stroke-width="0.8"/>
<line x1="29.5" y1="40.63" x2="31.1" y2="40.63" stroke="#303030" stroke-width="0.8"/>
<line x1="29.5" y1="37.40" x2="31.1" y2="37.40" stroke="#303030" stroke-width="0.8"/>
<line x1="29.5" y1="34.89" x2="31.1" y2="34.89" stroke="#303030" stroke-width="0.8"/>
<line x1="29.5" y1="32.84" x2="31.1" y2="32.84" stroke="#303030" stroke-width="0.8"/>
<line x1="29.5" y1="31.11" x2="31.1" y2="31.11" stroke="#303030" stroke-width="0.8"/>
<line x1="29.5" y1="29.61" x2="31.1" y2="29.61" stroke="#303030" stroke-width="0.8"/>
<line x1="29.5" y1="28.28" x2="31.1" y2="28.28" stroke="#303030" stroke-width="0.8"/>
<line x1="29.5" y1="27.10" x2="32.7" y2="27.10" stroke="#8a8a8a" stroke-width="1"/>
<g style="opacity:0.999"><text transform="translate(0.99 243.20) scale(0.93 1.0)" font-size="18.4">10</text><text transform="translate(18.10 234.90) scale(1.0 1.05)" font-size="13.0">0</text>
<text transform="translate(0.99 217.25) scale(0.93 1.0)" font-size="18.4">10</text><text transform="translate(18.10 208.95) scale(1.0 1.05)" font-size="13.0">1</text>
<text transform="translate(0.99 191.30) scale(0.93 1.0)" font-size="18.4">10</text><text transform="translate(18.10 183.00) scale(1.0 1.05)" font-size="13.0">2</text>
<text transform="translate(0.99 165.35) scale(0.93 1.0)" font-size="18.4">10</text><text transform="translate(18.10 157.05) scale(1.0 1.05)" font-size="13.0">3</text>
<text transform="translate(0.99 139.40) scale(0.93 1.0)" font-size="18.4">10</text><text transform="translate(18.10 131.10) scale(1.0 1.05)" font-size="13.0">4</text>
<text transform="translate(0.99 113.45) scale(0.93 1.0)" font-size="18.4">10</text><text transform="translate(18.10 105.15) scale(1.0 1.05)" font-size="13.0">5</text>
<text transform="translate(0.99 87.50) scale(0.93 1.0)" font-size="18.4">10</text><text transform="translate(18.10 79.20) scale(1.0 1.05)" font-size="13.0">6</text>
<text transform="translate(0.99 61.55) scale(0.93 1.0)" font-size="18.4">10</text><text transform="translate(18.10 53.25) scale(1.0 1.05)" font-size="13.0">7</text>
<text transform="translate(0.99 35.60) scale(0.93 1.0)" font-size="18.4">10</text><text transform="translate(18.10 27.30) scale(1.0 1.05)" font-size="13.0">8</text>
<text transform="translate(38.59 258.30) scale(1.0 1.0)" font-size="18.4">10</text><text transform="translate(56.99 250.00) scale(1.0 1.05)" font-size="13.0">−10</text>
<text transform="translate(99.53 258.30) scale(1.0 1.0)" font-size="18.4">10</text><text transform="translate(117.93 250.00) scale(1.0 1.05)" font-size="13.0">−8</text>
<text transform="translate(157.22 258.30) scale(1.0 1.0)" font-size="18.4">10</text><text transform="translate(175.62 250.00) scale(1.0 1.05)" font-size="13.0">−6</text>
<text transform="translate(214.91 258.30) scale(1.0 1.0)" font-size="18.4">10</text><text transform="translate(233.31 250.00) scale(1.0 1.05)" font-size="13.0">−4</text>
<text transform="translate(272.60 258.30) scale(1.0 1.0)" font-size="18.4">10</text><text transform="translate(291.00 250.00) scale(1.0 1.05)" font-size="13.0">−2</text>
<text transform="translate(333.95 258.30) scale(1.0 1.0)" font-size="18.4">10</text><text transform="translate(352.35 250.00) scale(1.0 1.05)" font-size="13.0">0</text>
<text transform="translate(24.30 15.60) scale(1.04 1.0)" font-size="18.4">S</text>
<text transform="translate(375.40 241.50) scale(1.0 1.0)" font-size="18.4" font-style="italic">v</text>
<text transform="translate(382.80 234.50) scale(1.0 1.05)" font-size="13.0">2</text></g>
</svg>
</body></html>
